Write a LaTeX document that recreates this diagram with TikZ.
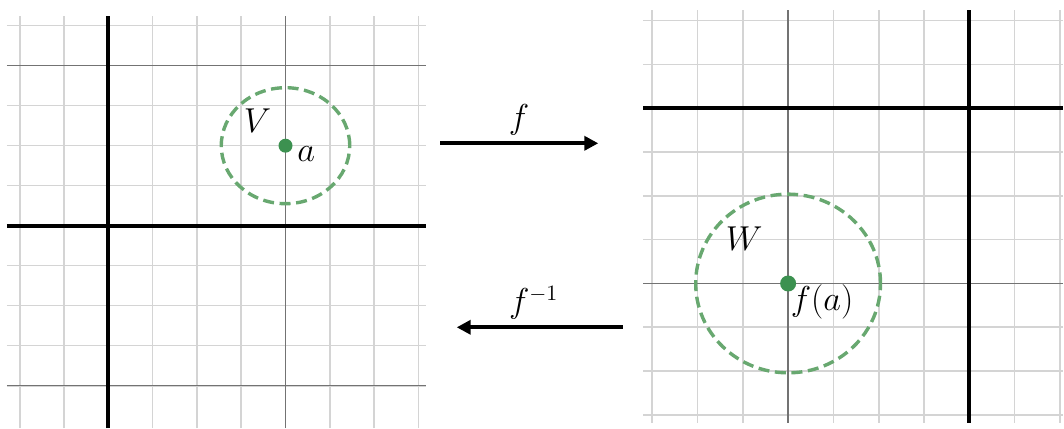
\documentclass[tikz,border=0pt]{standalone}
\usetikzlibrary{arrows.meta,positioning,calc}
\definecolor{gridlight}{HTML}{D4D4D4}
\definecolor{gridmid}{HTML}{737373}
\definecolor{ballgreen}{HTML}{68A870}
\definecolor{dotgreen}{HTML}{3C9150}

\tikzset{
  light/.style={draw=gridlight, line width=0.8pt},
  mid/.style={draw=gridmid, line width=0.7pt},
  axisline/.style={draw=black, line width=2pt},
  ball/.style={draw=ballgreen, line width=1.7pt, dash pattern=on 5.5pt off 2.8pt},
  pt/.style={circle, fill=dotgreen, inner sep=0pt, minimum size=#1},
  lbl/.style={inner sep=1pt, font=\fontsize{16}{18}\selectfont},
  maparrow/.style={line width=1.9pt, -{Triangle[length=7pt,width=7pt]}}
}

\begin{document}
\begin{tikzpicture}[x=0.5pt, y=0.5pt]
\useasboundingbox (0,0) rectangle (1064,428);

% left plane, around a
\begin{scope}[shift={(108.3,202.3)}, xscale=44.3, yscale=40]
  \foreach \i in {-2,...,7} \draw[light] (\i,-5.06) -- (\i,5.24);
  \foreach \j in {-4,...,5} \draw[light] (-2.29,\j) -- (7.17,\j);
  \draw[mid] (4,-5.06) -- (4,5.24);
  \foreach \j in {-4,4} \draw[mid] (-2.29,\j) -- (7.17,\j);
  \draw[axisline] (0,-5.06) -- (0,5.24);
  \draw[axisline] (-2.29,0) -- (7.17,0);
  \draw[ball] (4,2) circle[radius=1.45];
  \node[pt=7pt] (a) at (4,2) {};
\end{scope}
\node[lbl, right=1pt of a, yshift=-4pt] (alab) {$a$};
\node[lbl] (vlab) at ([xshift=-14pt, yshift=12.5pt]a) {$V$};

% right plane, around f(a)
\begin{scope}[shift={(969.3,319.7)}, xscale=45.3, yscale=43.8]
  \foreach \i in {-7,...,2} \draw[light] (\i,-7.18) -- (\i,2.24);
  \foreach \j in {-7,...,2} \draw[light] (-7.2,\j) -- (2.07,\j);
  \draw[mid] (-4,-7.18) -- (-4,2.24);
  \draw[mid] (-7.2,-4) -- (2.07,-4);
  \draw[axisline] (0,-7.18) -- (0,2.24);
  \draw[axisline] (-7.2,0) -- (2.07,0);
  \draw[ball] (-4,-4) circle[radius=2.04];
  \node[pt=8pt] (fa) at (-4,-4) {};
\end{scope}
\node[lbl] (falab) at ([xshift=17pt, yshift=-9pt]fa) {$f(a)$};
\node[lbl] (wlab) at ([xshift=-22pt, yshift=22.5pt]fa) {$W$};

% the maps
\coordinate (fstart) at (440,284.7);
\coordinate (fend) at (598.3,284.7);
\coordinate (gstart) at (622.7,100.7);
\coordinate (gend) at (456.7,100.7);
\draw[maparrow] (fstart) -- node[lbl, above=2pt] (flab) {$f$} (fend);
\draw[maparrow] (gstart) -- node[lbl, above=2pt, xshift=-3pt] (glab) {$f^{-1}$} (gend);
\end{tikzpicture}
\end{document}
